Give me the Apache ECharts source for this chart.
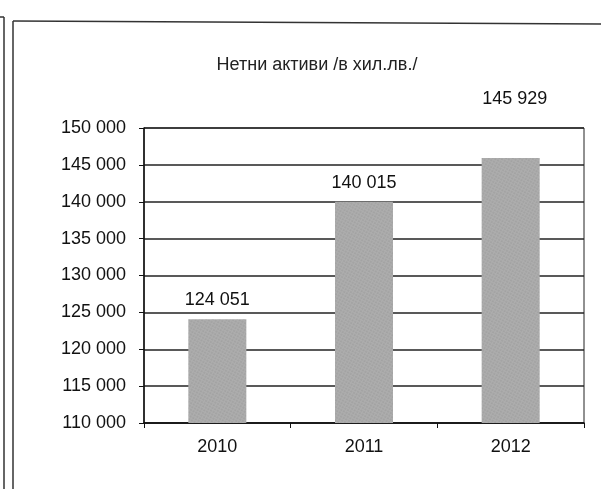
<!DOCTYPE html>
<html><head><meta charset="utf-8">
<script src="https://cdn.jsdelivr.net/npm/echarts@6/dist/echarts.min.js"></script>
<style>html,body{margin:0;padding:0;background:#fff}#c{width:601px;height:489px}</style>
</head><body><div id="c"></div>
<script>
const titleText = 'Нетни активи /в хил.лв./';
const categories = ['2010', '2011', '2012'];
const values = [124051, 140015, 145929];
const yTicks = [110000, 115000, 120000, 125000, 130000, 135000, 140000, 145000, 150000];

const fmt = v => String(v).replace(/\B(?=(\d{3})+(?!\d))/g, ' ');
const font = 'Liberation Sans, Arial, sans-serif';

const chart = echarts.init(document.getElementById('c'));
const data = values.map((v, i) => {
  const item = { value: v };
  if (v > yTicks[yTicks.length - 1] - 5000) item.label = { offset: [4, -40] };
  return item;
});
chart.setOption({
  animation: false,
  title: {
    text: titleText, left: 312, top: 51, textAlign: 'center',
    textStyle: { fontFamily: font, fontSize: 18, fontWeight: 'normal', color: '#222' }
  },
  grid: { left: 144, right: 17, top: 128, bottom: 66, show: true, borderColor: '#222', borderWidth: 1 },
  xAxis: {
    type: 'category', data: categories,
    axisLine: { lineStyle: { color: '#111', width: 1.5 } },
    axisTick: { show: true, alignWithLabel: false, length: 5, lineStyle: { color: '#111' } },
    axisLabel: { margin: 15, fontFamily: font, fontSize: 18, color: '#111' }
  },
  yAxis: {
    type: 'value', min: yTicks[0], max: yTicks[yTicks.length - 1], interval: 5000,
    axisLine: { show: true, lineStyle: { color: '#111', width: 1.5 } },
    axisTick: { show: true, length: 5, lineStyle: { color: '#111' } },
    splitLine: { lineStyle: { color: '#222', width: 1.5 } },
    axisLabel: { margin: 18, fontFamily: font, fontSize: 18, color: '#111', formatter: fmt }
  },
  series: [{
    type: 'bar', data: data, barWidth: 58,
    itemStyle: {
      color: '#adadad',
      decal: { symbol: 'circle', symbolSize: 0.6, color: 'rgba(60,60,60,0.35)', dashArrayX: [2, 1], dashArrayY: [2, 1], rotation: 0.5 }
    },
    label: { show: true, position: 'top', distance: 10, fontFamily: font, fontSize: 18, color: '#111', formatter: p => fmt(p.value) }
  }],
  graphic: [
    { type: 'line', shape: { x1: 4, y1: 17, x2: 4, y2: 489 }, style: { stroke: '#333', lineWidth: 1.5 } },
    { type: 'line', shape: { x1: 0, y1: 17, x2: 4, y2: 17 }, style: { stroke: '#333', lineWidth: 1.5 } },
    { type: 'line', shape: { x1: 13, y1: 21, x2: 13, y2: 489 }, style: { stroke: '#333', lineWidth: 1.5 } },
    { type: 'line', shape: { x1: 13, y1: 21, x2: 601, y2: 24 }, style: { stroke: '#333', lineWidth: 1.5 } }
  ]
});
</script></body></html>
